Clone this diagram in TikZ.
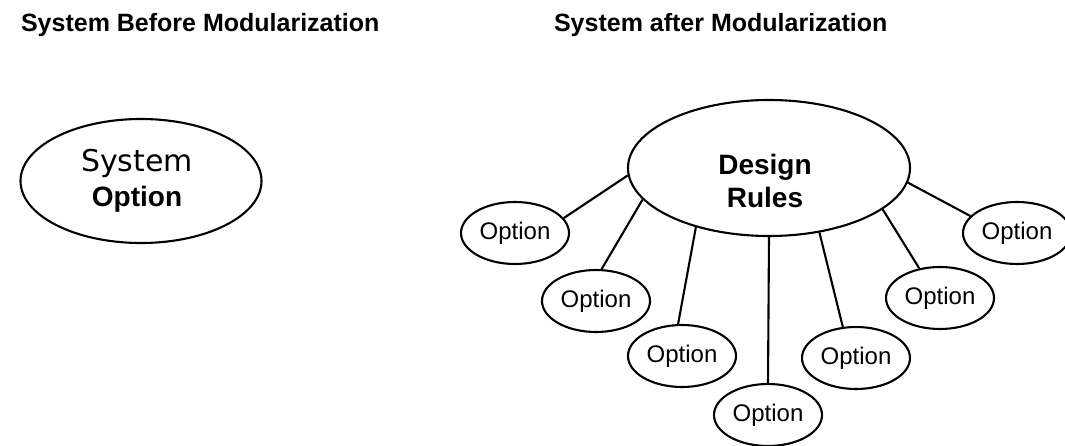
\documentclass[tikz,border=0pt]{standalone}
\usepackage{fontspec}
\setmainfont{Liberation Sans}
\newfontfamily\dejavu{DejaVu Sans}
\usetikzlibrary{shapes.geometric}
\begin{document}
\begin{tikzpicture}[x=1pt,y=-1pt,line width=2.1pt,
  opt/.style={ellipse,draw,minimum width=108pt,minimum height=62pt,inner sep=0pt,font=\fontsize{24}{28}\selectfont},
  bigell/.style={ellipse,draw,inner sep=0pt},
  ttl/.style={anchor=west,inner sep=0pt,font=\bfseries\fontsize{25}{30}\selectfont},
  conn/.style={line width=2.1pt}]
\useasboundingbox (0,0) rectangle (1065,446);
\node[ttl] (t1) at (20,25) {System Before Modularization};
\node[ttl] (t2) at (553,25) {System after Modularization};
\node[bigell,minimum width=241pt,minimum height=124pt] (sys) at (141,181) {};
\node[align=center,inner sep=0pt,font=\bfseries\fontsize{28}{35}\selectfont] (systxt) at (137,181) {{\mdseries\dejavu\fontsize{30}{35}\selectfont System}\\Option};
\node[bigell,minimum width=282pt,minimum height=136pt] (dr) at (769,168) {};
\node[align=center,inner sep=0pt,font=\bfseries\fontsize{28}{33}\selectfont] (drtxt) at (765,181) {Design\\Rules};
\node[opt] (e1) at (515,233) {Option};
\node[opt] (e2) at (596,301) {Option};
\node[opt] (e3) at (682,356) {Option};
\node[opt] (e4) at (768,415) {Option};
\node[opt] (e5) at (856,358) {Option};
\node[opt] (e6) at (940,298) {Option};
\node[opt] (e7) at (1017,233) {Option};
\draw[conn] (dr.183) -- (e1.17);
\draw[conn] (dr.194) -- (e2.80);
\draw[conn] (dr.219) -- (e3.97);
\draw[conn] (dr.270) -- (e4.90);
\draw[conn] (dr.308.6) -- (e5.113);
\draw[conn] (dr.340.7) -- (e6.125);
\draw[conn] (dr.354) -- (e7.160);
\end{tikzpicture}
\end{document}
